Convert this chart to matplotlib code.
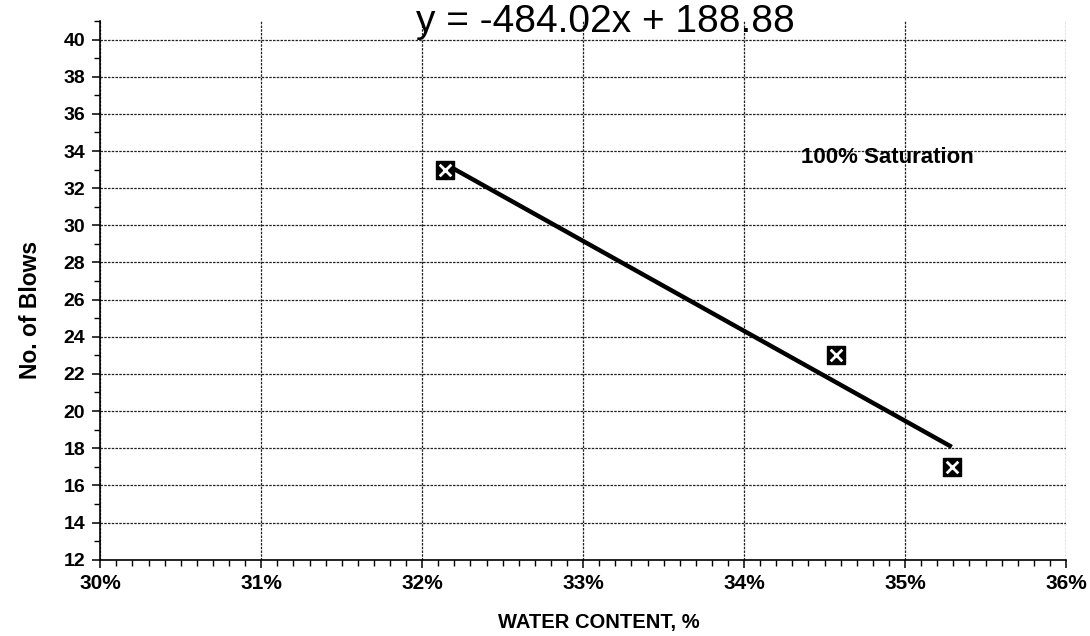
import numpy as np
import matplotlib
matplotlib.use("Agg")
import matplotlib.pyplot as plt
from matplotlib.ticker import MultipleLocator, FuncFormatter

plt.rcParams['font.family'] = ['Liberation Sans', 'DejaVu Sans']

# data
water_content = [0.3214, 0.3457, 0.3529]
blows = [33, 23, 17]
slope = -484.02
intercept = 188.88
sat_label = "100% Saturation"

fig = plt.figure(figsize=(10.9, 6.36), dpi=100)
ax = fig.add_axes([0.092, 0.12, 0.886, 0.847])

ax.set_xlim(0.30, 0.36)
ax.set_ylim(12, 41)

# grid
ax.xaxis.set_major_locator(MultipleLocator(0.01))
ax.xaxis.set_minor_locator(MultipleLocator(0.001))
ax.yaxis.set_major_locator(MultipleLocator(2))
ax.yaxis.set_minor_locator(MultipleLocator(1))
ax.grid(True, which='major', color='#222222', linestyle=(0, (2, 1)), linewidth=0.9)
ax.xaxis.set_major_formatter(FuncFormatter(lambda v, p: f"{v*100:.0f}%"))
ax.set_yticks(np.arange(12, 41, 2))

for s in ['top', 'right']:
    ax.spines[s].set_visible(False)
ax.spines['left'].set_linewidth(1.2)
ax.spines['bottom'].set_linewidth(1.2)

ax.tick_params(which='major', direction='out', length=6, width=1.1, labelsize=14, pad=5)
ax.tick_params(axis='x', which='major', labelsize=15, pad=4)
ax.tick_params(which='minor', direction='out', length=4, width=1.0)
for lab in ax.get_xticklabels() + ax.get_yticklabels():
    lab.set_fontweight('bold')

# trendline over the data range
xs = np.array([min(water_content), max(water_content)])
ax.plot(xs, slope * xs + intercept, color='black', linewidth=3.2, solid_capstyle='butt', zorder=3)

# markers: black square with white cross
ax.scatter(water_content, blows, marker='s', s=150, color='black', zorder=4)
ax.scatter(water_content, blows, marker='x', s=70, color='white', linewidths=2, zorder=5)

ax.text(0.3489, 33.67, sat_label, fontsize=16, fontweight='bold', ha='center', va='center')
ax.text(0.33135, 40.95, f"y = {slope:.2f}x + {intercept:.2f}", fontsize=28,
        ha='center', va='center', clip_on=False)

fig.text(0.549, 0.022, "WATER CONTENT, %", fontsize=14.5, fontweight='bold',
         ha='center', va='center')
fig.text(0.028, 1 - 310 / 636, "No. of Blows", fontsize=16.5, fontweight='bold',
         ha='center', va='center', rotation=90)

fig.savefig("out.png", dpi=100)
